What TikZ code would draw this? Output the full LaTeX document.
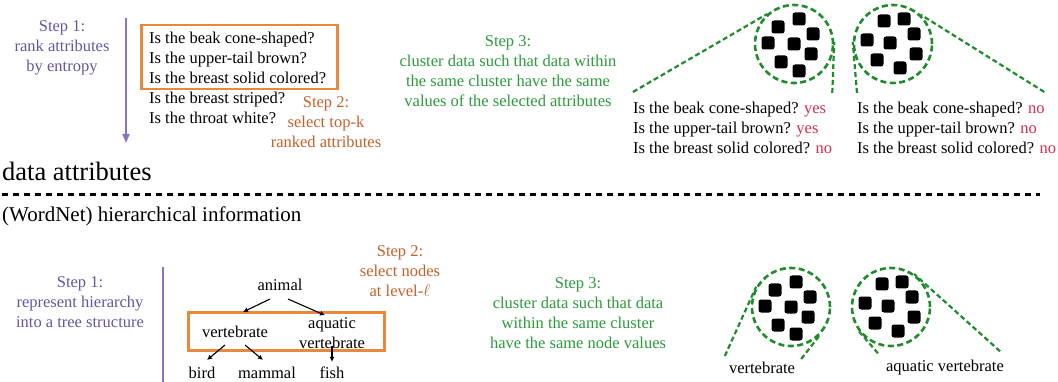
\documentclass[tikz,border=0pt]{standalone}
\usepackage{fontspec}
\setmainfont{Liberation Serif}
\usetikzlibrary{
arrows.meta,
positioning
}
\definecolor{stepone}{HTML}{65559E}
\definecolor{steponeline}{HTML}{8B73C4}
\definecolor{steptwo}{HTML}{C5602A}
\definecolor{boxorange}{HTML}{E8883A}
\definecolor{stepthree}{HTML}{2B9A3B}
\definecolor{clustergreen}{HTML}{1F8B2B}
\definecolor{answer}{HTML}{D42E4E}

\newcommand{\patternA}{5/-25,-16/-17,19/-10,-26/-1,0/0,17/10,-13/18,5/27}
\newcommand{\patternB}{-9/-23,11/-25,21/-10,-26/-4,-3/-1,23/10,-16/16,7/24}

\begin{document}
\begin{tikzpicture}[
x=1pt, y=-1pt,
every node/.style={inner sep=0pt, font=\fontsize{16.5}{20}\selectfont},
steptext/.style={align=center},
selectbox/.style={draw=boxorange, line width=2.5pt},
cluster/.style={
circle,
draw=clustergreen,
line width=2.6pt,
dash pattern=on 6pt off 3.5pt,
minimum size=78pt
},
zoomline/.style={draw=clustergreen, line width=2.2pt, dash pattern=on 5pt off 3pt},
datum/.style={fill=black, rounded corners=2.5pt, minimum size=13pt},
treearrow/.style={-{Latex[length=5pt,width=5pt]}, line width=1.1pt}
]

\useasboundingbox (0,0) rectangle (1058,382);

% data attributes
\node[steptext, text=stepone] (rank) at (62,48) {Step 1:\\rank attributes\\by entropy};
\coordinate (rankTop) at (126,18);
\coordinate (rankEnd) at (126,143);
\draw[steponeline, line width=2pt, -{Triangle[length=9pt,width=7pt]}] (rankTop) -- (rankEnd);

\node[align=left, anchor=west] (attrs) at (149,78) {Is the beak cone-shaped?\\Is the upper-tail brown?\\Is the breast solid colored?\\Is the breast striped?\\Is the throat white?};
\node[selectbox, minimum width=196pt, minimum height=64pt, anchor=north west] (topk) at (140,24) {};
\node[steptext, text=steptwo] (select) at (326,122) {Step 2:\\select top-k\\ranked attributes};

\node[steptext, text=stepthree] (group) at (508,71) {Step 3:\\cluster data such that data within\\the same cluster have the same\\values of the selected attributes};

\node[cluster] (yes) at (794,44) {};
\node[cluster] (no) at (893,44) {};
\foreach \dx/\dy in \patternA \node[datum] at ([shift={(\dx,\dy)}]yes.center) {};
\foreach \dx/\dy in \patternB \node[datum] at ([shift={(\dx,\dy)}]no.center) {};

\node[align=left, anchor=west] (ansyes) at (633,128) {Is the beak cone-shaped? \textcolor{answer}{yes}\\Is the upper-tail brown? \textcolor{answer}{yes}\\Is the breast solid colored? \textcolor{answer}{no}};
\node[align=left, anchor=west] (ansno) at (857,128) {Is the beak cone-shaped? \textcolor{answer}{no}\\Is the upper-tail brown? \textcolor{answer}{no}\\Is the breast solid colored? \textcolor{answer}{no}};

\draw[zoomline] ([shift={(0,-10)}]ansyes.north west) -- (yes.132);
\draw[zoomline] ([shift={(0,-9)}]ansyes.north east) -- (yes.3);
\draw[zoomline] ([shift={(0,-9)}]ansno.north west) -- (no.177);
\draw[zoomline] ([shift={(-12,-10)}]ansno.north east) -- (no.47);

% divider
\node[anchor=base west, font=\fontsize{26.5}{30}\selectfont] (dataattr) at (2,181) {data attributes};
\coordinate (divL) at (2,195);
\coordinate (divR) at (1040,195);
\draw[line width=3pt, dash pattern=on 6pt off 5pt] (divL) -- (divR);
\node[anchor=base west, font=\fontsize{21}{25}\selectfont] (wordnet) at (2,222) {(WordNet) hierarchical information};

% hierarchical information
\node[steptext, text=stepone] (tree) at (80,302) {Step 1:\\represent hierarchy\\into a tree structure};
\coordinate (treeTop) at (163,267);
\coordinate (treeEnd) at (163,382);
\draw[steponeline, line width=2.5pt] (treeTop) -- (treeEnd);

\node (animal) at (280,285) {animal};
\node (vert) at (235,332) {vertebrate};
\node[align=center] (aqua) at (332,333) {aquatic\\vertebrate};
\node (bird) at (202,373) {bird};
\node (mammal) at (267,373) {mammal};
\node (fish) at (332,373) {fish};
\node[selectbox, minimum width=196pt, minimum height=38pt, anchor=north west] (level) at (187,311) {};

\draw[treearrow] ([shift={(-10,8)}]animal.south) -- ([shift={(8,-14)}]vert.north);
\draw[treearrow] ([shift={(8,8)}]animal.south) -- ([shift={(-7,-2)}]aqua.north);
\draw[treearrow] ([shift={(-10,7)}]vert.south) -- ([shift={(5,-7)}]bird.north);
\draw[treearrow] ([shift={(10,7)}]vert.south) -- ([shift={(-4,-7)}]mammal.north);
\draw[treearrow] ([shift={(0,-3)}]aqua.south) -- ([shift={(0,-5)}]fish.north);

\node[steptext, text=steptwo] (pick) at (400,271) {Step 2:\\select nodes\\at level-$\ell$};

\node[steptext, text=stepthree] (groupnodes) at (578,313) {Step 3:\\cluster data such that data\\within the same cluster\\have the same node values};

\node[cluster] (vcluster) at (791,307) {};
\node[cluster] (acluster) at (891,307) {};
\foreach \dx/\dy in \patternA \node[datum] at ([shift={(\dx,\dy)}]vcluster.center) {};
\foreach \dx/\dy in \patternB \node[datum] at ([shift={(\dx,\dy)}]acluster.center) {};

\node (vlabel) at (762,368) {vertebrate};
\node (alabel) at (945,368) {aquatic vertebrate};

\draw[zoomline] ([shift={(-4,-6)}]vlabel.north west) -- (vcluster.150);
\draw[zoomline] ([shift={(6,-3)}]vlabel.north east) -- (vcluster.-44);
\draw[zoomline] ([shift={(-8,-7)}]alabel.north west) -- (acluster.216);
\draw[zoomline] ([shift={(-4,-9)}]alabel.north east) -- (acluster.55);

\end{tikzpicture}
\end{document}
